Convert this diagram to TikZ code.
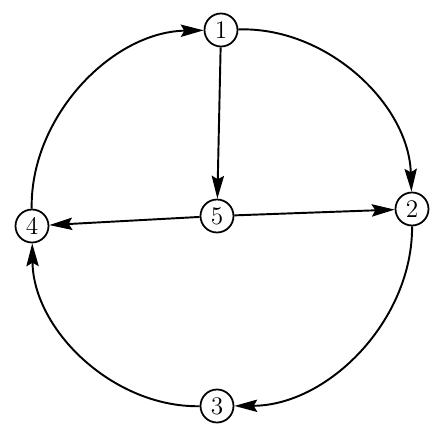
\documentclass[tikz,border=0pt]{standalone}
\usepackage{tikz}
\usetikzlibrary{arrows.meta, positioning}

\begin{document}
\begin{tikzpicture}[
    every node/.style={circle, draw, line width=1pt, minimum size=0.66cm, inner sep=0pt, font=\Large},
    arrow/.style={-{Stealth[length=13pt, width=7pt, inset=2pt]}, line width=1.1pt},
    rim/.style={arrow, bend left=45, looseness=0.95}
]
\useasboundingbox (0,0) rectangle (8.66,-8.64);

% Vertices
\node (n1) at (4.42,-0.60) {1};
\node (n2) at (8.24,-4.18) {2};
\node (n3) at (4.34,-8.12) {3};
\node (n4) at (0.64,-4.52) {4};
\node (n5) at (4.34,-4.32) {5};

% Outer cycle
\draw[rim] (n1) to (n2);
\draw[rim] (n2) to (n3);
\draw[rim] (n3) to (n4);
\draw[rim] (n4) to (n1);

% Spokes
\draw[arrow] (n1) -- (n5);
\draw[arrow] (n5) -- (n2);
\draw[arrow] (n5) -- (n4);

\end{tikzpicture}
\end{document}
